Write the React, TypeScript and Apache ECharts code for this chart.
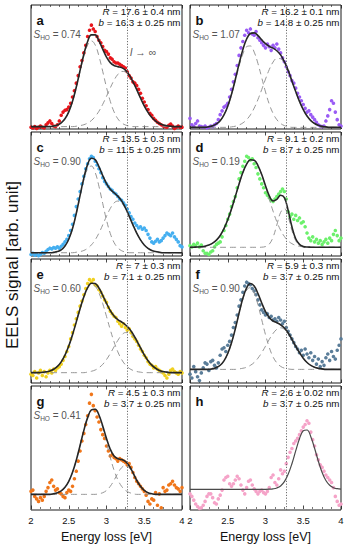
import React, { useEffect, useRef } from "react";
import * as echarts from "echarts";

// ---------- sampling grids (energy axis, eV) ----------
const E_SCATTER: number[] = Array.from({ length: 81 }, (_, i) => +(2 + i * 0.025).toFixed(3));
const E_FIT: number[] = Array.from({ length: 41 }, (_, i) => +(2 + i * 0.05).toFixed(2));

const X_TICKS = [2, 2.5, 3, 3.5, 4];
const CUTOFF_EV = 3.265;

// ---------- panel annotations ----------
const LETTERS = ["a", "b", "c", "d", "e", "f", "g", "h"];
const R_TEXT = ["17.6 ± 0.4", "16.2 ± 0.1", "13.5 ± 0.3", "9.1 ± 0.2", "7 ± 0.3", "5.9 ± 0.3", "4.5 ± 0.3", "2.6 ± 0.02"];
const B_TEXT = ["16.3 ± 0.25", "14.8 ± 0.25", "11.5 ± 0.25", "8.7 ± 0.25", "7.1 ± 0.25", "3.7 ± 0.25", "3.7 ± 0.25", "3.7 ± 0.25"];
const S_HO = ["0.74", "1.07", "0.90", "0.19", "0.60", "0.90", "0.41", ""];
const COLORS = ["#e8151b", "#9a5cf5", "#45aff0", "#6cf06c", "#f0d020", "#5a7d99", "#f0761a", "#f5a3c8"];

// ---------- measured EELS spectra (arb. unit), E = 2.000 ... 4.000 step 0.025 ----------
const SCAT_A = [
  3, 2.5, 3.5, 2, 3, 4, 3, 2.5, 5, 6.5,
  8, 6, 4, 3.5, 5, 8, 12.5, 15, 16.5, 17,
  19, 22, 27, 32, 38, 44, 51, 56, 62, 68,
  75, 80, 84, 81, 79, 75, 72, 70, 67, 64,
  63, 61, 58, 57, 55, 54, 54, 53, 52, 51,
  50, 47, 44, 42, 39, 38, 36, 33, 30, 26,
  23, 20, 17, 14, 12.5, 10, 8.5, 7, 6, 5,
  4, 3.5, 3, 4.5, 5.5, 4, 2, 3, 4, 3,
  3,
];
const SCAT_B = [
  10, 5, 3.5, 6, 8, 4, 3.5, 3, 4, 2.5,
  3, 4, 3.5, 5, 6, 9, 13, 16, 19, 20,
  22, 27, 33, 39, 45, 52, 60, 66, 71, 76,
  80, 78, 81, 77, 76, 79, 74, 72, 70, 68,
  66, 69, 67, 64, 68, 66, 69, 65, 62, 58,
  55, 51, 47, 44, 40, 38, 34, 30, 27, 24,
  21, 18, 15, 16, 13, 11, 9, 7, 5, 4,
  3.5, 4, 8, 12, 17, 24, 22, 15, 9, 5,
  4,
];
const SCAT_C = [
  2, 3, 1.5, 2.5, 1, 2, 3.5, 3, 4.5, 6,
  7, 6.5, 7.5, 7, 8, 7, 8.5, 10, 12, 14,
  17, 21, 26, 33, 40, 46, 52, 58, 64, 70,
  74, 78, 80, 79, 76, 73, 70, 67, 63, 60,
  58, 56, 54, 53, 51, 50, 48, 46, 45, 43,
  41, 38, 35, 32, 30, 27, 25, 23, 24, 22,
  23, 21, 18, 15, 12, 11, 12.5, 14, 12, 13,
  15, 17, 19, 18, 17, 19, 16, 14, 12, 9,
  8,
];
const SCAT_D = [
  9, 8, 10, 9, 11, 8, 9.5, 5, 3, 3,
  2, 4, 5, 8, 10, 11, 12, 16, 21, 25,
  30, 34, 40, 44, 48, 55, 62, 67, 72, 76,
  80, 79, 77, 78, 74, 71, 66, 62, 58, 55,
  51, 49, 47, 45, 44, 46, 48, 50, 52, 54,
  52, 46, 36, 32, 34, 30, 33, 29, 31, 27,
  28, 24, 19, 15, 13, 16, 12, 14, 11, 13,
  10, 12, 14, 11, 15, 13, 18, 21, 17, 13,
  15,
];
const SCAT_E = [
  7, 6, 9, 4, 8, 10, 6, 9, 5, 8,
  10, 8, 11, 10, 12, 13, 15, 18, 21, 25,
  29, 35, 40, 46, 51, 56, 61, 65, 70, 75,
  79, 82, 80, 82, 78, 77, 74, 72, 69, 66,
  64, 60, 57, 55, 53, 52, 49, 47, 45, 47,
  44, 42, 43, 40, 37, 35, 33, 30, 27, 25,
  22, 20, 17, 15, 14, 12, 13, 11, 10, 9,
  8, 6, 4, 7, 10, 11, 9, 8, 7, 9,
  8,
];
const SCAT_F = [
  7, 4, 13, 9, 5, 2, 8, 12, 16, 15,
  10, 17, 18, 14, 12, 16, 22, 27, 28, 25,
  30, 33, 38, 44, 48, 54, 61, 66, 72, 77,
  80, 79, 78, 75, 73, 70, 66, 62, 58, 56,
  54, 55, 52, 53, 50, 51, 49, 52, 50, 47,
  49, 44, 41, 38, 35, 32, 29, 27, 24, 26,
  22, 27, 23, 20, 24, 18, 21, 15, 19, 13,
  17, 14, 20, 23, 18, 25, 21, 19, 26, 30,
  35,
];
const SCAT_G = [
  14, 15, 10, 8, 6, 9, 7, 10, 14, 17,
  21, 23, 18, 15, 16, 13, 12, 10, 9, 13,
  15, 14, 18, 24, 30, 38, 46, 54, 60, 67,
  74, 84, 91, 82, 78, 73, 69, 63, 59, 56,
  50, 46, 42, 43, 41, 40, 38, 40, 39, 38,
  37, 35, 36, 33, 29, 25, 22, 20, 18, 16,
  14, 11, 6, 4, 8, 7, 13, 3, 12, 1,
  17, 14, 15, 19, 20, 22, 19, 17, 16, 14,
  17,
];
const SCAT_H = [
  12, 10, 7, 4, 2, 0.5, 1, 3, 6, 10,
  12, 12, 9, 5, 4, 8, 11, 15, 23, 25,
  26, 20, 18, 20, 23, 26, 24, 19, 15, 12,
  17, 22, 23, 19, 16, 14, 12, 14, 15, 13,
  12, 14, 17, 25, 27, 21, 19, 24, 31, 28,
  30, 36, 41, 45, 48, 52, 54, 56, 59, 62,
  65, 67, 70, 68, 61, 55, 50, 43, 39, 35,
  33, 30, 27, 25, 23, 21, 17, 10, 6, 3,
  4,
];

// ---------- fitted curves (arb. unit), E = 2.00 ... 4.00 step 0.05 ----------
const FIT_A = [
  3.5, 3.5, 3.5, 3.5, 3.5, 3.5, 4.0, 4.8, 6.5, 9.7,
  15.2, 23.6, 34.9, 48.1, 60.9, 71.1, 76.3, 76.3, 71.6, 65.0,
  58.6, 54.3, 52.0, 51.1, 50.3, 48.3, 44.6, 39.1, 32.8, 26.2,
  20.0, 14.8, 10.7, 7.9, 6.0, 4.8, 4.2, 3.8, 3.5, 3.5,
  3.5,
];
const G1_A = [
  3.5, 3.5, 3.5, 3.5, 3.5, 3.5, 4.0, 4.8, 6.5, 9.7,
  15.2, 23.6, 34.6, 47.3, 59.4, 68.3, 71.5, 68.3, 59.4, 47.3,
  34.6, 23.6, 15.2, 9.7, 6.5, 4.8, 4.0, 3.5, 3.5, 3.5,
  3.5, 3.5, 3.5, 3.5, 3.5, 3.5, 3.5, 3.5, 3.5, 3.5,
  3.5,
];
const G2_A = [
  3.5, 3.5, 3.5, 3.5, 3.5, 3.5, 3.5, 3.5, 3.5, 3.5,
  3.5, 3.5, 3.8, 4.3, 5.0, 6.3, 8.3, 11.5, 15.7, 21.2,
  27.5, 34.2, 40.3, 44.9, 47.3, 47.0, 44.1, 39.1, 32.8, 26.2,
  20.0, 14.8, 10.7, 7.9, 6.0, 4.8, 4.2, 3.8, 3.5, 3.5,
  3.5,
];
const FIT_B = [
  2.9, 2.9, 2.9, 2.9, 2.9, 3.4, 4.1, 5.6, 8.2, 12.8,
  19.7, 29.3, 40.9, 53.3, 64.6, 73.0, 77.4, 77.9, 75.7, 72.3,
  69.3, 67.2, 65.8, 63.7, 60.4, 55.1, 48.1, 39.6, 31.3, 23.5,
  17.0, 11.9, 8.3, 6.0, 4.6, 3.7, 3.3, 2.9, 2.9, 2.9,
  2.9,
];
const G1_B = [
  2.9, 2.9, 2.9, 2.9, 2.9, 3.4, 4.1, 5.6, 8.2, 12.8,
  19.7, 28.9, 40.0, 51.4, 61.1, 66.9, 67.5, 62.6, 53.6, 42.3,
  31.0, 21.3, 14.0, 9.0, 6.0, 4.3, 3.5, 2.9, 2.9, 2.9,
  2.9, 2.9, 2.9, 2.9, 2.9, 2.9, 2.9, 2.9, 2.9, 2.9,
  2.9,
];
const G2_B = [
  2.9, 2.9, 2.9, 2.9, 2.9, 2.9, 2.9, 2.9, 2.9, 2.9,
  2.9, 3.3, 3.8, 4.8, 6.4, 9.0, 12.8, 18.2, 25.0, 32.9,
  41.2, 48.8, 54.7, 57.6, 57.3, 53.7, 47.5, 39.6, 31.3, 23.5,
  17.0, 11.9, 8.3, 6.0, 4.6, 3.7, 3.3, 2.9, 2.9, 2.9,
  2.9,
];
const FIT_C = [
  3.4, 3.4, 3.4, 3.4, 3.4, 3.4, 3.7, 4.3, 5.7, 8.7,
  14.1, 22.6, 34.7, 48.9, 62.8, 73.5, 78.4, 77.3, 71.7, 64.6,
  58.3, 53.8, 51.0, 48.3, 44.5, 39.1, 32.4, 25.5, 19.0, 13.6,
  9.6, 6.9, 5.2, 4.3, 3.8, 3.4, 3.4, 3.4, 3.4, 3.4,
  3.4,
];
const G1_C = [
  3.4, 3.4, 3.4, 3.4, 3.4, 3.4, 3.7, 4.3, 5.7, 8.7,
  14.1, 22.6, 34.3, 48.0, 61.0, 70.0, 72.2, 67.1, 56.1, 42.5,
  29.3, 18.7, 11.5, 7.3, 5.0, 4.0, 3.4, 3.4, 3.4, 3.4,
  3.4, 3.4, 3.4, 3.4, 3.4, 3.4, 3.4, 3.4, 3.4, 3.4,
  3.4,
];
const G2_C = [
  3.4, 3.4, 3.4, 3.4, 3.4, 3.4, 3.4, 3.4, 3.4, 3.4,
  3.4, 3.4, 3.8, 4.3, 5.2, 6.9, 9.6, 13.6, 19.0, 25.5,
  32.4, 38.5, 42.9, 44.4, 42.9, 38.5, 32.4, 25.5, 19.0, 13.6,
  9.6, 6.9, 5.2, 4.3, 3.8, 3.4, 3.4, 3.4, 3.4, 3.4,
  3.4,
];
const FIT_D = [
  7.7, 7.8, 7.9, 8.1, 8.6, 9.5, 11.0, 13.4, 17.1, 22.5,
  29.5, 38.2, 48.0, 58.0, 67.0, 73.7, 77.2, 76.8, 72.6, 65.4,
  56.6, 48.5, 44.4, 45.7, 49.0, 47.1, 37.0, 24.0, 14.5, 10.0,
  8.4, 7.9, 7.8, 7.7, 7.7, 7.7, 7.7, 7.7, 7.7, 7.7,
  7.7,
];
const G1_D = [
  7.7, 7.8, 7.9, 8.1, 8.6, 9.5, 11.0, 13.4, 17.1, 22.5,
  29.5, 38.2, 48.0, 58.0, 67.0, 73.7, 77.2, 76.8, 72.6, 65.3,
  56.0, 46.0, 36.4, 28.0, 21.3, 16.3, 12.8, 10.6, 9.2, 8.5,
  8.1, 7.9, 7.8, 7.7, 7.7, 7.7, 7.7, 7.7, 7.7, 7.7,
  7.7,
];
const G2_D = [
  7.7, 7.7, 7.7, 7.7, 7.7, 7.7, 7.7, 7.7, 7.7, 7.7,
  7.7, 7.7, 7.7, 7.7, 7.7, 7.7, 7.7, 7.7, 7.7, 7.8,
  8.3, 10.2, 15.7, 25.4, 35.4, 38.5, 31.9, 21.1, 13.0, 9.2,
  8.0, 7.7, 7.7, 7.7, 7.7, 7.7, 7.7, 7.7, 7.7, 7.7,
  7.7,
];
const FIT_E = [
  8.2, 8.2, 8.2, 8.5, 8.9, 9.6, 10.9, 13.2, 16.8, 22.1,
  29.3, 38.3, 48.5, 59.0, 68.4, 75.6, 79.2, 78.9, 75.4, 69.6,
  63.2, 57.5, 53.2, 50.3, 48.4, 46.2, 43.3, 39.0, 33.7, 28.0,
  22.3, 17.7, 14.2, 11.7, 10.0, 9.1, 8.6, 8.2, 8.2, 8.2,
  8.2,
];
const G1_E = [
  8.2, 8.2, 8.2, 8.5, 8.9, 9.6, 10.9, 13.2, 16.8, 22.1,
  29.3, 38.3, 48.5, 59.0, 68.4, 75.1, 78.1, 76.8, 71.5, 63.0,
  52.8, 42.3, 32.7, 24.7, 18.7, 14.4, 11.7, 10.0, 9.1, 8.6,
  8.2, 8.2, 8.2, 8.2, 8.2, 8.2, 8.2, 8.2, 8.2, 8.2,
  8.2,
];
const G2_E = [
  8.2, 8.2, 8.2, 8.2, 8.2, 8.2, 8.2, 8.2, 8.2, 8.2,
  8.2, 8.2, 8.2, 8.2, 8.2, 8.7, 9.3, 10.3, 12.1, 14.8,
  18.6, 23.4, 28.7, 33.8, 37.9, 40.0, 39.8, 37.2, 32.8, 27.6,
  22.3, 17.7, 14.2, 11.7, 10.0, 9.1, 8.6, 8.2, 8.2, 8.2,
  8.2,
];
const FIT_F = [
  10.8, 10.8, 10.8, 10.8, 10.8, 10.8, 11.4, 12.3, 14.1, 17.6,
  23.4, 31.9, 42.9, 55.5, 67.2, 75.5, 78.9, 76.9, 71.0, 63.5,
  56.7, 52.0, 49.2, 47.8, 46.2, 43.6, 39.7, 34.6, 29.2, 24.1,
  19.7, 16.3, 14.0, 12.5, 11.7, 11.2, 10.8, 10.8, 10.8, 10.8,
  10.8,
];
const G1_F = [
  10.8, 10.8, 10.8, 10.8, 10.8, 10.8, 11.4, 12.3, 14.1, 17.6,
  23.4, 31.9, 42.9, 55.1, 66.3, 73.8, 75.7, 71.4, 62.1, 50.2,
  38.3, 28.2, 20.7, 16.0, 13.2, 11.8, 11.2, 10.8, 10.8, 10.8,
  10.8, 10.8, 10.8, 10.8, 10.8, 10.8, 10.8, 10.8, 10.8, 10.8,
  10.8,
];
const G2_F = [
  10.8, 10.8, 10.8, 10.8, 10.8, 10.8, 10.8, 10.8, 10.8, 10.8,
  10.8, 10.8, 10.8, 11.2, 11.7, 12.5, 14.0, 16.3, 19.7, 24.1,
  29.2, 34.6, 39.3, 42.6, 43.8, 42.6, 39.3, 34.6, 29.2, 24.1,
  19.7, 16.3, 14.0, 12.5, 11.7, 11.2, 10.8, 10.8, 10.8, 10.8,
  10.8,
];
const FIT_G = [
  11.6, 11.6, 11.6, 11.6, 11.6, 11.6, 12.1, 12.9, 14.4, 17.2,
  21.9, 29.1, 38.8, 50.4, 62.4, 72.5, 78.6, 79.1, 74.6, 65.9,
  56.0, 47.4, 42.0, 39.9, 39.2, 37.8, 34.3, 28.9, 22.8, 18.0,
  14.7, 12.9, 12.1, 11.6, 11.6, 11.6, 11.6, 11.6, 11.6, 11.6,
  11.6,
];
const G1_G = [
  11.6, 11.6, 11.6, 11.6, 11.6, 11.6, 12.1, 12.9, 14.4, 17.2,
  21.9, 29.1, 38.8, 50.4, 62.4, 72.5, 78.6, 79.1, 74.1, 64.6,
  52.9, 41.0, 30.8, 23.2, 18.0, 14.8, 13.1, 12.2, 11.6, 11.6,
  11.6, 11.6, 11.6, 11.6, 11.6, 11.6, 11.6, 11.6, 11.6, 11.6,
  11.6,
];
const G2_G = [
  11.6, 11.6, 11.6, 11.6, 11.6, 11.6, 11.6, 11.6, 11.6, 11.6,
  11.6, 11.6, 11.6, 11.6, 11.6, 11.6, 11.6, 11.6, 12.1, 12.9,
  14.7, 18.0, 22.8, 28.3, 32.8, 34.6, 32.8, 28.3, 22.8, 18.0,
  14.7, 12.9, 12.1, 11.6, 11.6, 11.6, 11.6, 11.6, 11.6, 11.6,
  11.6,
];
const FIT_H = [
  15.6, 15.6, 15.6, 15.6, 15.6, 15.6, 15.6, 15.6, 15.6, 15.6,
  15.6, 15.6, 15.6, 15.6, 15.6, 15.6, 15.6, 15.6, 15.6, 15.6,
  15.6, 15.7, 16.0, 16.7, 18.3, 21.7, 27.5, 35.9, 46.1, 55.8,
  62.1, 62.7, 57.4, 48.2, 37.9, 29.0, 22.6, 18.8, 16.9, 16.1,
  15.7,
];

const SCATTERS = [SCAT_A, SCAT_B, SCAT_C, SCAT_D, SCAT_E, SCAT_F, SCAT_G, SCAT_H];
const FITS = [FIT_A, FIT_B, FIT_C, FIT_D, FIT_E, FIT_F, FIT_G, FIT_H];
const COMP1 = [G1_A, G1_B, G1_C, G1_D, G1_E, G1_F, G1_G, null];
const COMP2 = [G2_A, G2_B, G2_C, G2_D, G2_E, G2_F, G2_G, null];

// ---------- layout ----------
const FONT = "'Liberation Sans', Arial, Helvetica, sans-serif";
const COL_LEFT = [31, 190];
const COL_WIDTH = 151;
const ROW_TOP = [5, 132, 259, 386];
const ROW_HEIGHT = 124;
const ROW_YRANGE = [
  [1.6, 100],
  [0.8, 99.2],
  [0, 98.4],
  [-0.8, 97.6],
];

function buildOption() {
  const grid: any[] = [];
  const xAxis: any[] = [];
  const yAxis: any[] = [];
  const series: any[] = [];
  const graphic: any[] = [];

  for (let p = 0; p < 8; p++) {
    const row = Math.floor(p / 2);
    const col = p % 2;
    const gl = COL_LEFT[col];
    const gt = ROW_TOP[row];
    const isBottom = row === 3;

    grid.push({
      left: gl,
      top: gt,
      width: COL_WIDTH,
      height: ROW_HEIGHT,
      show: true,
      borderColor: "#1a1a1a",
      borderWidth: 1,
      backgroundColor: "transparent",
    });

    const tickCommon = {
      type: "value",
      gridIndex: p,
      min: X_TICKS[0],
      max: X_TICKS[X_TICKS.length - 1],
      interval: 0.5,
      axisLine: { show: false },
      axisTick: { show: true, inside: true, length: 3.5, lineStyle: { color: "#1a1a1a", width: 0.8 } },
      minorTick: { show: true, splitNumber: 4, length: 2, lineStyle: { color: "#1a1a1a", width: 0.6 } },
      splitLine: { show: false },
      minorSplitLine: { show: false },
    };
    xAxis.push({
      ...tickCommon,
      position: "bottom",
      axisLabel: {
        show: isBottom,
        fontSize: 9.5,
        color: "#111",
        margin: 5,
        fontFamily: FONT,
      },
      name: isBottom ? "Energy loss [eV]" : "",
      nameLocation: "middle",
      nameGap: 20,
      nameTextStyle: { fontSize: 12.5, color: "#111", fontFamily: FONT },
    });
    xAxis.push({
      ...tickCommon,
      position: "top",
      axisLabel: { show: false },
    });
    yAxis.push({
      type: "value",
      gridIndex: p,
      min: ROW_YRANGE[row][0],
      max: ROW_YRANGE[row][1],
      show: false,
      splitLine: { show: false },
    });

    const xi = 2 * p;

    series.push({
      type: "scatter",
      xAxisIndex: xi,
      yAxisIndex: p,
      data: E_SCATTER.map((e, i) => [e, SCATTERS[p][i]]),
      symbol: "circle",
      symbolSize: 3.6,
      itemStyle: { color: COLORS[p], opacity: 1 },
      silent: true,
      z: 2,
    });

    const comps = [COMP1[p], COMP2[p]];
    comps.forEach((c) => {
      if (!c) return;
      series.push({
        type: "line",
        xAxisIndex: xi,
        yAxisIndex: p,
        data: E_FIT.map((e, i) => [e, c[i]]),
        showSymbol: false,
        symbol: "none",
        smooth: 0.4,
        silent: true,
        lineStyle: { color: "#8a8a8a", width: 0.9, type: [6, 4] },
        z: 3,
      });
    });

    const isLast = p === 7;
    series.push({
      type: "line",
      xAxisIndex: xi,
      yAxisIndex: p,
      data: E_FIT.map((e, i) => [e, FITS[p][i]]),
      showSymbol: false,
      symbol: "none",
      smooth: 0.4,
      silent: true,
      lineStyle: { color: isLast ? "#4a4a4a" : "#262626", width: isLast ? 1.2 : 1.6 },
      z: 4,
      markLine: {
        silent: true,
        symbol: ["none", "none"],
        label: { show: false },
        lineStyle: { color: "#6e6e6e", width: 1, type: [1.2, 1.6] },
        data: [{ xAxis: CUTOFF_EV }],
      },
    });

    // annotations
    graphic.push({
      type: "text",
      x: gl + 5.5,
      y: gt + 15,
      z: 10,
      style: {
        text: LETTERS[p],
        fontSize: 13,
        fontWeight: "bold",
        fontFamily: FONT,
        fill: "#111",
        textAlign: "left",
        textVerticalAlign: "middle",
        align: "left",
        verticalAlign: "middle",
      },
    });
    // R and b lines (right aligned)
    const rich = {
      i: { fontStyle: "italic", fontSize: 9.8, fontFamily: FONT, fill: "#111", lineHeight: 11 },
      t: { fontSize: 9.8, fontFamily: FONT, fill: "#111", lineHeight: 11 },
    };
    graphic.push({
      type: "text",
      x: gl + COL_WIDTH - 1.5,
      y: gt + 0.5,
      z: 10,
      style: {
        text: `{i|R}{t| = ${R_TEXT[p]} nm}\n{i|b}{t| = ${B_TEXT[p]} nm}`,
        rich,
        fontSize: 9.8,
        lineHeight: 11,
        fontFamily: FONT,
        fill: "#111",
        textAlign: "right",
        textVerticalAlign: "top",
        align: "right",
        verticalAlign: "top",
      },
    });
    if (S_HO[p]) {
      graphic.push({
        type: "text",
        x: gl + 2.5,
        y: gt + 29.5,
        z: 10,
        style: {
          text: `{s|S}{sub|HO}{n| = ${S_HO[p]}}`,
          rich: {
            s: { fontStyle: "italic", fontSize: 10, fontFamily: FONT, fill: "#555", lineHeight: 12 },
            sub: { fontSize: 6.5, fontFamily: FONT, fill: "#555", lineHeight: 7, verticalAlign: "bottom" },
            n: { fontSize: 10, fontFamily: FONT, fill: "#555", lineHeight: 12 },
          },
          fontSize: 10,
          fontFamily: FONT,
          fill: "#555",
          textAlign: "left",
          textVerticalAlign: "middle",
          align: "left",
          verticalAlign: "middle",
        },
      });
    }
    if (p === 0) {
      graphic.push({
        type: "text",
        x: gl + 99,
        y: gt + 47,
        z: 10,
        style: {
          text: "{i|l}{t| → ∞}",
          rich: {
            i: { fontStyle: "italic", fontSize: 10.5, fontFamily: FONT, fill: "#555" },
            t: { fontSize: 10.5, fontFamily: FONT, fill: "#555" },
          },
          fontSize: 10.5,
          fontFamily: FONT,
          fill: "#555",
          textAlign: "left",
          textVerticalAlign: "middle",
          align: "left",
          verticalAlign: "middle",
        },
      });
    }
  }

  graphic.push({
    type: "text",
    x: 12,
    y: 265,
    rotation: Math.PI / 2,
    z: 10,
    style: {
      text: "EELS signal [arb. unit]",
      fontSize: 17,
      fontFamily: FONT,
      fill: "#111",
      textAlign: "center",
      textVerticalAlign: "middle",
      align: "center",
      verticalAlign: "middle",
    },
  });

  return {
    animation: false,
    backgroundColor: "#ffffff",
    grid,
    xAxis,
    yAxis,
    series,
    graphic,
  };
}

export default function App() {
  const ref = useRef<HTMLDivElement | null>(null);
  useEffect(() => {
    if (!ref.current) return;
    const chart = echarts.init(ref.current, undefined, { renderer: "svg" });
    chart.setOption(buildOption() as any);
    return () => chart.dispose();
  }, []);
  return (
    <div
      ref={ref}
      style={{ position: "fixed", left: 0, top: 0, width: 348, height: 552, background: "#fff" }}
    />
  );
}
